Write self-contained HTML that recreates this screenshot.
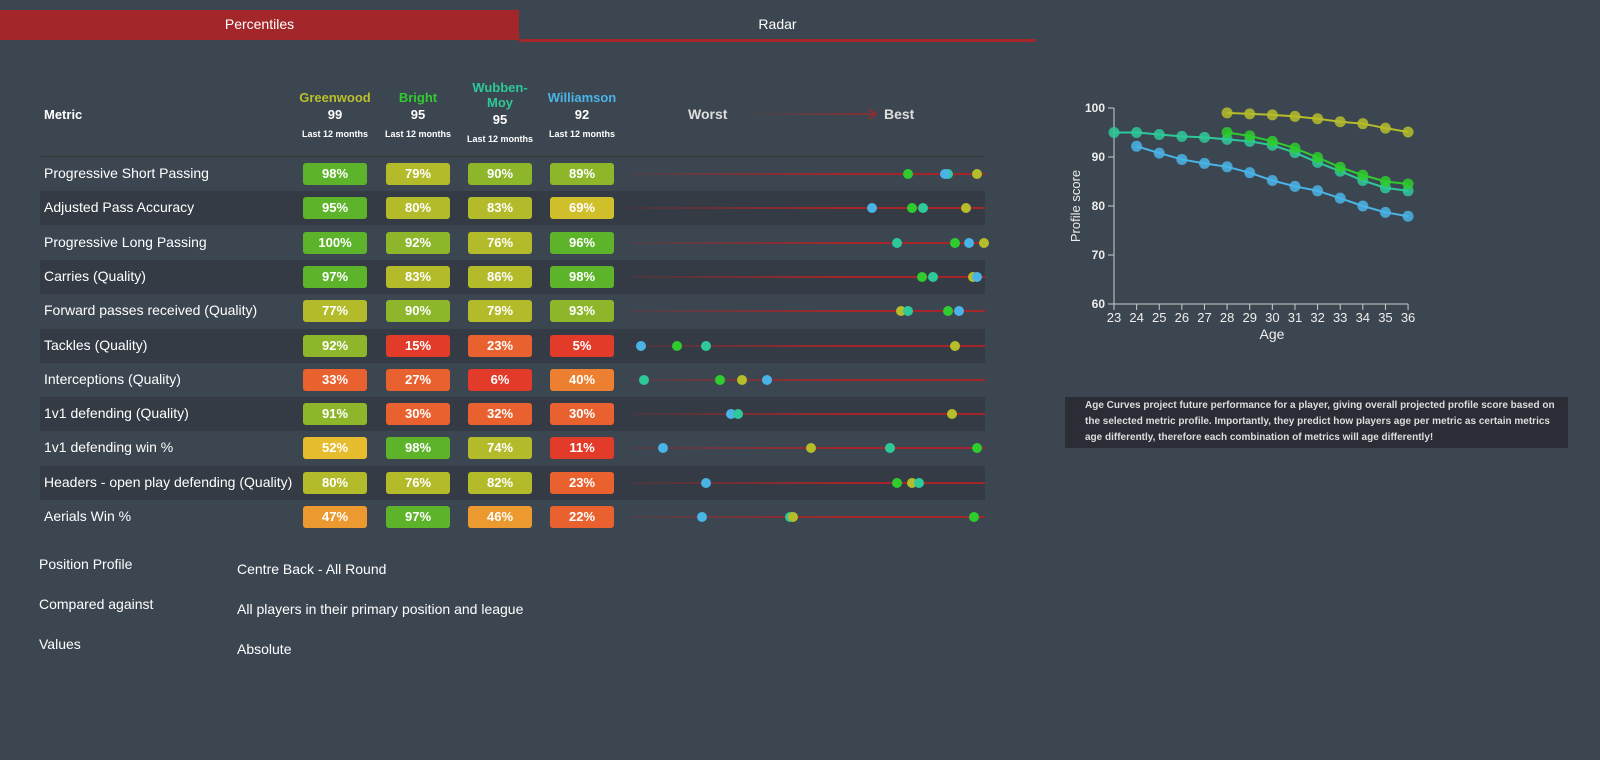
<!DOCTYPE html>
<html><head><meta charset="utf-8"><style>
body{margin:0;width:1600px;height:760px;background:#3c4650;font-family:"Liberation Sans",sans-serif;color:#fff;position:relative;overflow:hidden}
.a{position:absolute}
.tab{position:absolute;top:10px;height:30px;line-height:29px;text-align:center;font-size:14px}
.hd{position:absolute;text-align:center;font-weight:bold;font-size:13px;width:90px}
.sm{font-size:9px;font-weight:bold}
.row{position:absolute;left:40px;width:945px;height:34px}
.lab{position:absolute;left:44px;font-size:14px}
.pill{position:absolute;width:64px;height:22px;border-radius:3px;text-align:center;line-height:22px;font-weight:bold;font-size:13px}
.ln{position:absolute;left:630px;width:355px;height:2px;background:linear-gradient(90deg,rgba(160,35,35,0.15),#a3272a 60%)}
.d{position:absolute;width:10px;height:10px;border-radius:50%}
.f{position:absolute;font-size:14px}
</style></head><body>
<div class="tab" style="left:0;width:519px;background:#a3272a">Percentiles</div>
<div class="tab" style="left:519px;width:517px;border-bottom:3px solid #a3272a;height:29px">Radar</div>
<div class="a" style="left:44px;top:107px;font-weight:bold;font-size:13px">Metric</div>
<div class="hd" style="left:290px;top:90px"><span style="color:#b9c02c">Greenwood</span><br><span style="line-height:20px">99</span><br><span class="sm">Last 12 months</span></div>
<div class="hd" style="left:373px;top:90px"><span style="color:#2fcb2f">Bright</span><br><span style="line-height:20px">95</span><br><span class="sm">Last 12 months</span></div>
<div class="hd" style="left:455px;top:80px"><span style="color:#2ec89a">Wubben-<br>Moy</span><br><span style="line-height:20px">95</span><br><span class="sm">Last 12 months</span></div>
<div class="hd" style="left:537px;top:90px"><span style="color:#4ab4e6">Williamson</span><br><span style="line-height:20px">92</span><br><span class="sm">Last 12 months</span></div>
<div class="a" style="left:688px;top:106px;font-weight:bold;font-size:14px;color:#ddd">Worst</div>
<svg class="a" style="left:740px;top:106px" width="140" height="16"><defs><linearGradient id="g" gradientUnits="userSpaceOnUse" x1="0" y1="0" x2="136" y2="0"><stop offset="0" stop-color="#a3272a" stop-opacity="0"/><stop offset="1" stop-color="#a3272a"/></linearGradient></defs><rect x="0" y="7.3" width="136" height="1.5" fill="url(#g)"/><polyline points="129,3 136,8 129,13" fill="none" stroke="#a3272a" stroke-width="1.5"/></svg>
<div class="a" style="left:884px;top:106px;font-weight:bold;font-size:14px;color:#ddd">Best</div>
<div class="a" style="left:40px;top:156px;width:945px;height:1px;background:#333"></div>
<div id="rows"></div>
<div class="f" style="left:39px;top:556px">Position Profile</div><div class="f" style="left:237px;top:561px">Centre Back - All Round</div>
<div class="f" style="left:39px;top:596px">Compared against</div><div class="f" style="left:237px;top:601px">All players in their primary position and league</div>
<div class="f" style="left:39px;top:636px">Values</div><div class="f" style="left:237px;top:641px">Absolute</div>
<svg class="a" style="left:1060px;top:90px" width="500" height="270" font-family="Liberation Sans" id="ch"></svg>
<div class="a" style="left:1065px;top:397px;width:503px;height:51px;background:#2a2d35;font-size:10px;font-weight:bold;color:#ddd;line-height:16px;box-sizing:border-box;padding:1px 0 0 20px">Age Curves project future performance for a player, giving overall projected profile score based on the selected metric profile. Importantly, they predict how players age per metric as certain metrics age differently, therefore each combination of metrics will age differently!</div>
<script>
const G='#b5bd2a',B='#2ecc2e',W='#2ec99a',L='#4ab4e6';
const rows=[
["Progressive Short Passing",[98,79,90,89],[[B,908],[W,948],[L,945],[G,977]]],
["Adjusted Pass Accuracy",[95,80,83,69],[[L,872],[B,912],[W,923],[G,966]]],
["Progressive Long Passing",[100,92,76,96],[[W,897],[B,955],[L,969],[G,984]]],
["Carries (Quality)",[97,83,86,98],[[B,922],[W,933],[G,973],[L,977]]],
["Forward passes received (Quality)",[77,90,79,93],[[G,901],[W,908],[B,948],[L,959]]],
["Tackles (Quality)",[92,15,23,5],[[L,641],[B,677],[W,706],[G,955]]],
["Interceptions (Quality)",[33,27,6,40],[[W,644],[B,720],[G,742],[L,767]]],
["1v1 defending (Quality)",[91,30,32,30],[[L,731],[W,738],[G,952]]],
["1v1 defending win %",[52,98,74,11],[[L,663],[G,811],[W,890],[B,977]]],
["Headers - open play defending (Quality)",[80,76,82,23],[[L,706],[B,897],[G,912],[W,919]]],
["Aerials Win %",[47,97,46,22],[[L,702],[W,790],[G,793],[B,974]]]];
function col(v){if(v>=95)return'#5db42a';if(v>=88)return'#8db62a';if(v>=74)return'#b3bb2a';if(v>=60)return'#cfbf2a';if(v>=50)return'#e6bd2e';if(v>=44)return'#ec9a30';if(v>=38)return'#ec7f30';if(v>=20)return'#e9612e';return'#e33b2a'}
let h='';const px=[303,386,468,550];
rows.forEach((r,i)=>{const y=174+i*34.3;
if(i%2)h+=`<div class="row" style="top:${y-17}px;background:#343b44"></div>`;
h+=`<div class="lab" style="top:${y-9}px">${r[0]}</div>`;
r[1].forEach((v,j)=>h+=`<div class="pill" style="left:${px[j]}px;top:${y-11}px;background:${col(v)}">${v}%</div>`);
h+=`<div class="ln" style="top:${y-1}px"></div>`;
r[2].forEach(d=>h+=`<div class="d" style="left:${d[1]-5}px;top:${y-5}px;background:${d[0]}"></div>`);});
document.getElementById('rows').innerHTML=h;
const X=a=>54+(a-23)*22.62,Y=v=>18+(100-v)*4.9;
let s=`<line x1="54" y1="18" x2="54" y2="214" stroke="#ccc"/><line x1="54" y1="214" x2="348" y2="214" stroke="#ccc"/>`;
for(let v=60;v<=100;v+=10)s+=`<line x1="48" x2="54" y1="${Y(v)}" y2="${Y(v)}" stroke="#ccc"/><text x="45" y="${Y(v)+4}" text-anchor="end" font-size="12" font-weight="bold" fill="#eee">${v}</text>`;
for(let a=23;a<=36;a++)s+=`<line x1="${X(a)}" x2="${X(a)}" y1="214" y2="220" stroke="#ccc"/><text x="${X(a)}" y="232" text-anchor="middle" font-size="13" fill="#eee">${a}</text>`;
s+=`<text x="212" y="249" text-anchor="middle" font-size="14" fill="#eee">Age</text><text transform="translate(20,116) rotate(-90)" text-anchor="middle" font-size="13" fill="#eee">Profile score</text>`;
const ser=[[L,24,[92.2,90.8,89.5,88.7,88,86.8,85.2,84,83.1,81.6,80,78.7,77.9]],
[W,23,[95,95,94.6,94.2,94,93.6,93.2,92.4,90.9,88.9,87.1,85.2,83.7,83.1]],
[B,28,[95,94.3,93.2,91.8,89.9,87.9,86.3,85,84.5]],
[G,28,[99,98.8,98.6,98.3,97.8,97.2,96.8,95.9,95.1]]];
ser.forEach(([c,a0,vs])=>{s+=`<polyline fill="none" stroke="${c}" stroke-width="2" points="${vs.map((v,i)=>X(a0+i)+','+Y(v)).join(' ')}"/>`;
vs.forEach((v,i)=>s+=`<circle cx="${X(a0+i)}" cy="${Y(v)}" r="5.5" fill="${c}" opacity="0.85"/>`);});
document.getElementById('ch').innerHTML=s;
</script>
</body></html>
